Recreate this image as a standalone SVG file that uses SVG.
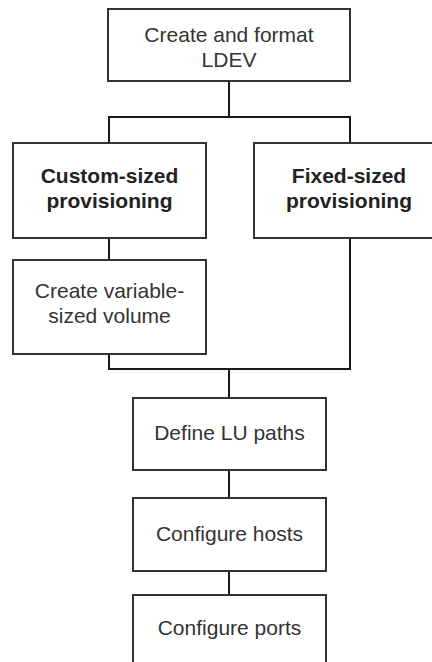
<svg xmlns="http://www.w3.org/2000/svg" width="432" height="662" viewBox="0 0 432 662">
  <style>
    .box { fill: #ffffff; stroke: #333333; stroke-width: 2; }
    .link { fill: none; stroke: #1a1a1a; stroke-width: 2; }
    .t { font-family: "Liberation Sans", Arial, sans-serif; font-size: 21px; fill: #333333; text-anchor: middle; }
    .b { font-weight: bold; fill: #222222; }
  </style>
  <rect width="432" height="662" fill="#ffffff"/>

  <g id="connectors">
    <path class="link" d="M229 81 V117"/>
    <path class="link" d="M109 143 V117 H350 V143"/>
    <path class="link" d="M109 238 V260"/>
    <path class="link" d="M109 354 V369 H350 V238"/>
    <path class="link" d="M229 369 V398"/>
    <path class="link" d="M229 470 V498"/>
    <path class="link" d="M229 571 V595"/>
  </g>

  <g id="create-ldev">
    <rect class="box" x="108" y="9" width="242" height="72"/>
    <text class="t" x="229" y="42">Create and format</text>
    <text class="t" x="229" y="67">LDEV</text>
  </g>

  <g id="custom-sized">
    <rect class="box" x="13" y="143" width="193" height="95"/>
    <text class="t b" x="109.5" y="183">Custom-sized</text>
    <text class="t b" x="109.5" y="208">provisioning</text>
  </g>

  <g id="fixed-sized">
    <rect class="box" x="254" y="143" width="193" height="95"/>
    <text class="t b" x="349" y="183">Fixed-sized</text>
    <text class="t b" x="349" y="208">provisioning</text>
  </g>

  <g id="variable-volume">
    <rect class="box" x="13" y="260" width="193" height="94"/>
    <text class="t" x="109.5" y="298">Create variable-</text>
    <text class="t" x="109.5" y="323">sized volume</text>
  </g>

  <g id="define-lu-paths">
    <rect class="box" x="133" y="398" width="193" height="72"/>
    <text class="t" x="229.5" y="440">Define LU paths</text>
  </g>

  <g id="configure-hosts">
    <rect class="box" x="133" y="498" width="193" height="73"/>
    <text class="t" x="229.5" y="541">Configure hosts</text>
  </g>

  <g id="configure-ports">
    <rect class="box" x="133" y="595" width="193" height="80"/>
    <text class="t" x="229.5" y="635">Configure ports</text>
  </g>
</svg>
